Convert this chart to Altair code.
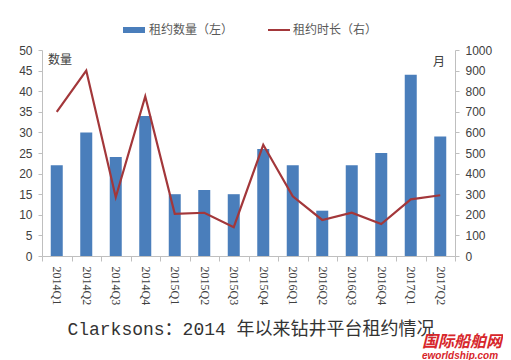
import altair as alt
import pandas as pd

quarters = ["2014Q1","2014Q2","2014Q3","2014Q4","2015Q1","2015Q2","2015Q3","2015Q4",
            "2016Q1","2016Q2","2016Q3","2016Q4","2017Q1","2017Q2"]
counts = [22, 30, 24, 34, 15, 16, 15, 26, 22, 11, 22, 25, 44, 29]
months = [700, 900, 285, 775, 205, 210, 140, 540, 290, 175, 210, 155, 275, 295]

df = pd.DataFrame({"q": quarters, "count": counts, "months": months})

BLUE = "#4A7EBB"
RED = "#A3373A"
AX = "#BFBFBF"
LBL = "#404040"
FONT = "Liberation Sans, Noto Sans CJK SC"

x = alt.X("q:N", sort=quarters, title=None,
          scale=alt.Scale(paddingInner=0.0, paddingOuter=0.0),
          axis=alt.Axis(labelAngle=90, labelFontSize=12, labelColor=LBL, labelFont="Liberation Serif",
                        domainColor=AX, tickColor=AX, tickBand="extent", tickSize=5,
                        labelPadding=5, labelBaseline="middle", labelAlign="left"))

bars = alt.Chart(df).mark_bar(color=BLUE, size=12).encode(
    x=x,
    y=alt.Y("count:Q", title=None,
            scale=alt.Scale(domain=[0, 50], nice=False),
            axis=alt.Axis(values=list(range(0, 51, 5)), grid=False, labelFontSize=12,
                          labelColor=LBL, labelFont=FONT, domainColor=AX, tickColor=AX,
                          tickSize=4, labelPadding=6, orient="left", format="d"))
)

line = alt.Chart(df).mark_line(color=RED, strokeWidth=2.2).encode(
    x=x,
    y=alt.Y("months:Q", title=None,
            scale=alt.Scale(domain=[0, 1000], nice=False),
            axis=alt.Axis(values=list(range(0, 1001, 100)), grid=False, labelFontSize=12,
                          labelColor=LBL, labelFont=FONT, domainColor=AX, tickColor=AX,
                          tickSize=4, labelPadding=6, orient="right", format="d"))
)

base = alt.Chart(pd.DataFrame({"a": [0]}))

lbl_left = base.mark_text(text="数量", font=FONT, fontSize=12, color=LBL, align="left",
                          baseline="middle").encode(x=alt.value(6), y=alt.value(10))
lbl_right = base.mark_text(text="月", font=FONT, fontSize=12, color=LBL, align="left",
                           baseline="middle").encode(x=alt.value(391), y=alt.value(12))

leg_rect = base.mark_rect(color=BLUE).encode(x=alt.value(81), x2=alt.value(103),
                                             y=alt.value(-23), y2=alt.value(-17))
leg_t1 = base.mark_text(text="租约数量（左）", font=FONT, fontSize=12, color="#595959",
                        align="left", baseline="middle").encode(x=alt.value(107), y=alt.value(-20))
leg_line = base.mark_rule(color=RED, strokeWidth=2).encode(x=alt.value(226), x2=alt.value(248),
                                                           y=alt.value(-20))
leg_t2 = base.mark_text(text="租约时长（右）", font=FONT, fontSize=12, color="#595959",
                        align="left", baseline="middle").encode(x=alt.value(251), y=alt.value(-20))

title_t = base.mark_text(text="Clarksons：2014 年以来钻井平台租约情况",
                         font="Liberation Mono, Noto Sans CJK SC", fontSize=18, color="#333333",
                         align="center", baseline="alphabetic").encode(x=alt.value(209), y=alt.value(285))

wm1 = base.mark_text(text="国际船舶网", font="Noto Sans CJK SC", fontSize=16, fontWeight="bold",
                     fontStyle="italic", color="#D7262B", align="left", baseline="alphabetic").encode(
    x=alt.value(380), y=alt.value(297))
wm2 = base.mark_text(text="eworldship.com", font="Liberation Sans", fontSize=10, fontWeight="bold",
                     fontStyle="italic", color="#D7262B", align="left", baseline="alphabetic").encode(
    x=alt.value(380), y=alt.value(309))

main = alt.layer(bars, line).resolve_scale(y="independent")

chart = alt.layer(main, lbl_left, lbl_right, leg_rect, leg_t1, leg_line, leg_t2,
                  title_t, wm1, wm2).properties(
    width=413, height=206,
    padding={"left": 34, "top": 42, "right": 48, "bottom": 104},
    autosize=alt.AutoSizeParams(type="none"),
    background="white"
).configure_view(stroke=None)

chart.save("out.html", embed_options={"renderer": "svg", "actions": False})
